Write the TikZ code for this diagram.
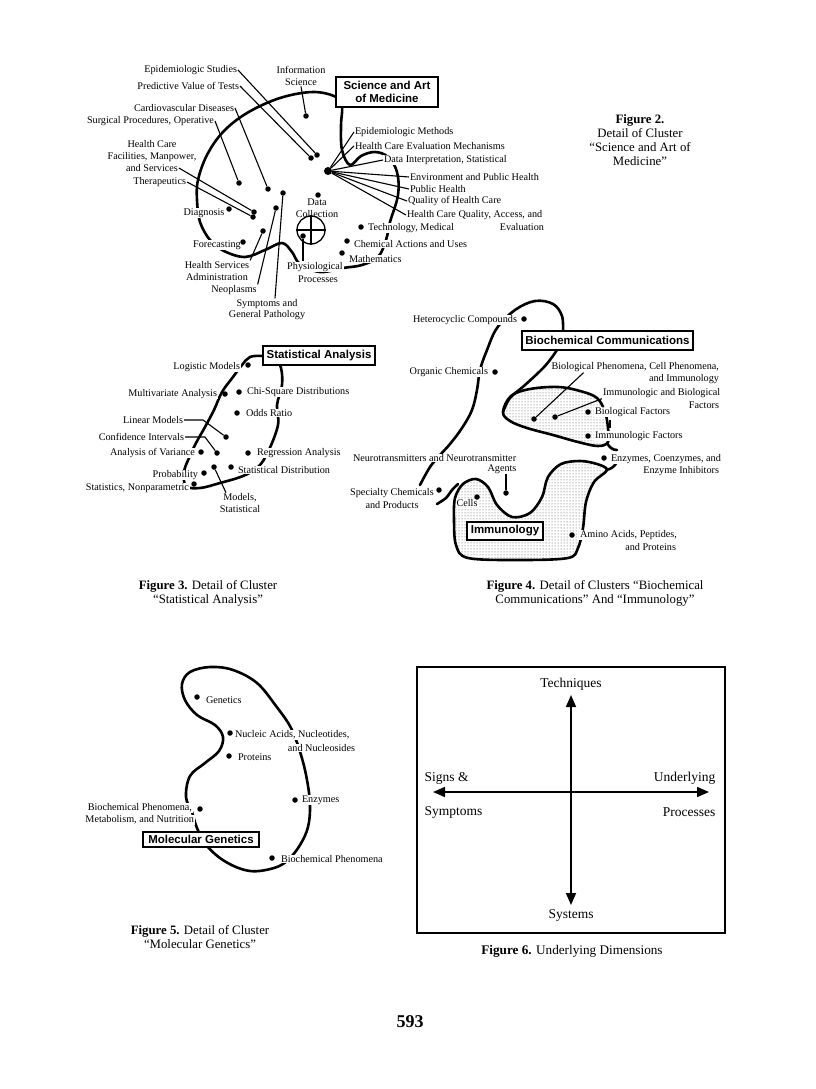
\documentclass[tikz,border=0pt]{standalone}
\usepackage{fontspec}
\setmainfont{Liberation Serif}
\newfontfamily\boxfont{Liberation Sans}
\usetikzlibrary{arrows.meta,patterns,calc}
\begin{document}
\begin{tikzpicture}[x=1pt,y=-1pt,
  lbl/.style={font=\fontsize{10.2}{11.5}\selectfont, inner sep=0.8pt, fill=white},
  lblc/.style={lbl, align=center},
  ttl/.style={draw, line width=1.2pt, fill=white, font=\boxfont\bfseries\fontsize{11.5}{13}\selectfont, inner sep=1pt, align=center},
  dot/.style={circle, fill=black, inner sep=0pt, minimum size=5.5pt},
  lead/.style={line width=1.1pt},
  blob/.style={line width=2.6pt, line join=round, line cap=round},
  dotted area/.style={pattern=dots, pattern color=black!70},
  figcap/.style={font=\fontsize{12.8}{14}\selectfont, align=center, inner sep=0pt},
  dimlbl/.style={font=\fontsize{13.5}{15}\selectfont, inner sep=0.5pt},
  dimarrow/.style={line width=1.6pt, {Triangle[length=12pt,width=10pt]}-{Triangle[length=12pt,width=10pt]}}
]
\useasboundingbox (0,0) rectangle (816,1089);

%================ FIGURE 2 =================
\draw[blob] plot[smooth cycle, tension=0.6] coordinates {(336,97) (313,92) (280,98) (247,113) (223,132) (207,155) (198,180) (197,200) (200,222) (210,240) (224,251) (245,257) (265,250) (282,243) (292,252) (300,264) (320,272) (343,268) (362,265) (378,257) (386,240) (390,222) (398,195) (397,172) (388,157) (375,152) (361,156) (350,165) (342,150) (341,125) (342,107)};
\node[ttl, minimum width=102pt, minimum height=30pt] (tsam) at (387,92) {Science and Art\\of Medicine};

\node[lbl, anchor=east] (les) at (238,70) {Epidemiologic Studies};
\node[lbl, anchor=east] (lpv) at (240,86) {Predictive Value of Tests};
\node[lblc] (lis) at (301,76) {Information\\Science};
\node[lbl, anchor=east] (lcd) at (235,108) {Cardiovascular Diseases};
\node[lbl, anchor=east] (lsp) at (215,121) {Surgical Procedures, Operative};
\node[lblc] (lhc) at (152,151) {Health Care\\Facilities, Manpower,};
\node[lbl] (lhc2) at (152,168) {and Services};
\node[lbl, anchor=east] (lth) at (187,182) {Therapeutics};
\node[lbl] (ldg) at (204,213) {Diagnosis};
\node[lbl] (lfc) at (217,245) {Forecasting};
\node[lbl] (lhs1) at (217,265) {Health Services};
\node[lbl] (lhs2) at (217,277) {Administration};
\node[lbl] (lne) at (234,290) {Neoplasms};
\node[lbl] (lsy1) at (267,304) {Symptoms and};
\node[lbl] (lsy2) at (267,315) {General Pathology};
\node[lblc] (ldc) at (317,208) {Data\\Collection};
\node[lbl] (lph1) at (315,267) {Physiological};
\node[lbl] (lph2) at (318,279) {Processes};
\node[lbl, anchor=west] (lem) at (354,132) {Epidemiologic Methods};
\node[lbl, anchor=west] (lhce) at (354,146) {Health Care Evaluation Mechanisms};
\node[lbl, anchor=west] (ldi) at (383,160) {Data Interpretation, Statistical};
\node[lbl, anchor=west] (lep) at (409,177) {Environment and Public Health};
\node[lbl, anchor=west] (lpu) at (409,189) {Public Health};
\node[lbl, anchor=west] (lqh) at (407,201) {Quality of Health Care};
\node[lbl, anchor=west] (lhq) at (406,215) {Health Care Quality, Access, and};
\node[lbl, anchor=east] (lhq2) at (545,227) {Evaluation};
\node[lbl, anchor=west] (lte) at (367,228) {Technology, Medical};
\node[lbl, anchor=west] (lch) at (353,244) {Chemical Actions and Uses};
\node[lbl, anchor=west] (lma) at (348,259) {Mathematics};

\node[circle, draw, line width=1.3pt, minimum size=28pt, inner sep=0pt] (cc) at (311,230) {};
\draw[line width=1.3pt] (cc.north) -- (cc.south) (cc.west) -- (cc.east);

\node[dot] (des) at (317,155) {};
\node[dot] (dpv) at (311,158) {};
\node[dot] (dis) at (306,116) {};
\node[dot] (dcd) at (268,189) {};
\node[dot] (dsp) at (239,183) {};
\node[dot] (dhc) at (254,212) {};
\node[dot] (dth) at (253,217) {};
\node[dot] (ddg) at (229,209) {};
\node[dot] (dfc) at (243,242) {};
\node[dot] (dsy) at (283,193) {};
\node[dot] (dne) at (276,208) {};
\node[dot] (dhs) at (263,231) {};
\node[dot] (ddc) at (318,195) {};
\node[dot] (dph) at (303,236) {};
\node[dot] (dte) at (361,227) {};
\node[dot] (dch) at (347,241) {};
\node[dot] (dma) at (342,253) {};
\node[circle, fill=black, inner sep=0pt, minimum size=8pt] (hub) at (328,171) {};

\draw[lead] (les.east) -- (des);
\draw[lead] (lpv.east) -- (dpv);
\draw[lead] (lis.south) -- (dis);
\draw[lead] (lcd.east) -- (dcd);
\draw[lead] (lsp.east) -- (dsp);
\draw[lead] (lhc2.east) -- (dhc);
\draw[lead] (lth.east) -- (dth);
\draw[lead] (dsy) -- ([xshift=8pt]lsy1.north);
\draw[lead] (dne) -- (lne.north east);
\draw[lead] (dhs) -- (lhs1.north east);
\draw[lead] (dph) -- (dph |- lph1.north);
\foreach \t in {lem,lhce,ldi,lep,lpu,lqh,lhq} \draw[lead] (hub) -- (\t.west);

\node[figcap] (cap2) at (640,140) {\textbf{Figure 2.}\\Detail of Cluster\\“Science and Art of\\Medicine”};

%================ FIGURE 3 =================
\draw[blob] plot[smooth cycle, tension=0.6] coordinates {(263,356) (250,357) (242,365) (233,377) (222,392) (214,410) (205,427) (196,443) (189,458) (184,472) (186,486) (200,488) (220,483) (243,476) (258,467) (268,452) (278,425) (277,405) (282,385) (281,368) (275,358)};
\node[ttl, minimum width=112pt, minimum height=19pt] (tsa) at (319,355.5) {Statistical Analysis};

\node[lbl, anchor=east] (llm) at (241,367) {Logistic Models};
\node[lbl, anchor=east] (lmv) at (218,394) {Multivariate Analysis};
\node[lbl, anchor=west] (lcs) at (246,392) {Chi-Square Distributions};
\node[lbl, anchor=west] (lor) at (245,413) {Odds Ratio};
\node[lbl, anchor=east] (lli) at (184,420) {Linear Models};
\node[lbl, anchor=east] (lci) at (185,437) {Confidence Intervals};
\node[lbl, anchor=east] (lav) at (196,453) {Analysis of Variance};
\node[lbl, anchor=west] (lra) at (256,453) {Regression Analysis};
\node[lbl, anchor=east] (lpr) at (199,475) {Probability};
\node[lbl, anchor=west] (lsd) at (237,470) {Statistical Distribution};
\node[lbl, anchor=east] (lsn) at (190,488) {Statistics, Nonparametric};
\node[lblc] (lms) at (240,503) {Models,\\Statistical};

\node[dot] (dlm) at (248,365) {};
\node[dot] (dmv) at (225,394) {};
\node[dot] (dcs) at (239,392) {};
\node[dot] (dor) at (237,413) {};
\node[dot] (dli) at (226,437) {};
\node[dot] (dci) at (217,453) {};
\node[dot] (dav) at (201,452) {};
\node[dot] (dra) at (248,453) {};
\node[dot] (dpr) at (204,473) {};
\node[dot] (dms) at (214,467) {};
\node[dot] (dsd) at (231,467) {};
\node[dot] (dsn) at (194,484) {};

\draw[lead] (lli.east) -- ++(19,0) -- (dli);
\draw[lead] (lci.east) -- ++(20,0) -- (dci);
\draw[lead] (dms) -- ([xshift=-14pt]lms.north);

\node[figcap] (cap3) at (208,593) {\textbf{Figure 3.} Detail of Cluster\\“Statistical Analysis”};

%================ FIGURE 4 =================
\draw[blob] plot[smooth, tension=0.6] coordinates {(420,485) (430,467) (440,455) (450,444) (462,428) (472,410) (477,390) (480,370) (487,350) (497,328) (515,310) (535,301) (553,304) (562,316) (563,332)};
\draw[blob] plot[smooth, tension=0.6] coordinates {(557,350) (545,366) (525,385) (510,398) (503,412)};
\draw[blob, dotted area] plot[smooth cycle, tension=0.6] coordinates {(503,412) (511,396) (530,389) (558,387) (580,391) (597,398) (605,412) (608,428) (608,442) (598,446) (578,442) (553,435) (527,428) (510,421)};
\draw[blob] (607,443) to[out=-60,in=180] (617,450);
\draw[blob, dotted area] plot[smooth cycle, tension=0.55] coordinates {(455,498) (463,484) (476,479) (488,487) (497,505) (512,517) (530,513) (542,497) (548,477) (561,464) (580,461) (597,464) (607,470) (594,482) (586,502) (583,528) (578,548) (568,558) (520,560) (468,558) (456,545) (454,520)};
\draw[blob] plot[smooth] coordinates {(437,504) (446,498) (452,490) (458,484)};
\draw[blob] (606,470) to[out=10,in=-120] (617,462);

\node[ttl, minimum width=171pt, minimum height=19pt] (tbc) at (607.5,340.5) {Biochemical Communications};
\node[ttl, minimum width=76pt, minimum height=18pt] (tim) at (505,531) {Immunology};

\node[lbl, anchor=east] (lhcc) at (518,320) {Heterocyclic Compounds};
\node[lbl, anchor=east] (loc) at (489,372) {Organic Chemicals};
\node[lbl, anchor=east] (lbp1) at (720,367) {Biological Phenomena, Cell Phenomena,};
\node[lbl, anchor=east] (lbp2) at (720,379) {and Immunology};
\node[lbl, anchor=west] (lib1) at (602,393) {Immunologic and Biological};
\node[lbl, anchor=east] (lib2) at (720,405) {Factors};
\node[lbl, anchor=west] (lbf) at (594,412) {Biological Factors};
\node[lbl, anchor=west] (lif) at (594,436) {Immunologic Factors};
\node[lbl, anchor=west] (lec1) at (610,459) {Enzymes, Coenzymes, and};
\node[lbl, anchor=east] (lec2) at (720,471) {Enzyme Inhibitors};
\node[lbl, anchor=west] (laa1) at (579,535) {Amino Acids, Peptides,};
\node[lbl, anchor=east] (laa2) at (677,547) {and Proteins};
\node[lbl, anchor=west] (lnt1) at (352,458) {Neurotransmitters and Neurotransmitter};
\node[lbl] (lnt2) at (502,469) {Agents};
\node[lbl] (lsc1) at (392,493) {Specialty Chemicals};
\node[lbl] (lsc2) at (392,505) {and Products};
\node[lbl] (lce) at (467,503) {Cells};

\node[dot] (dhcc) at (524,319) {};
\node[dot] (doc) at (495,372) {};
\node[dot] (dbp) at (534,419) {};
\node[dot] (dib) at (555,417) {};
\node[dot] (dbf) at (588,412) {};
\node[dot] (dif) at (588,436) {};
\node[dot] (dec) at (604,458) {};
\node[dot] (daa) at (572,535) {};
\node[dot] (dnt) at (506,493) {};
\node[dot] (dsc) at (439,490) {};
\node[dot] (dce) at (477,497) {};

\draw[lead] ([xshift=33pt]lbp1.south west) -- (dbp);
\draw[lead] (lib1.south west) -- (dib);
\draw[lead] (dnt |- lnt2.south) -- (dnt);
\draw[line width=2.4pt] ($(dbf)!0.5!(dif)+(22,-4)$) coordinate (bfa) -- ++(0,8) coordinate (bfb);

\node[figcap] (cap4) at (595,593) {\textbf{Figure 4.} Detail of Clusters “Biochemical\\Communications” And “Immunology”};

%================ FIGURE 5 =================
\draw[blob] plot[smooth cycle, tension=0.6] coordinates {(186,797) (190,776) (205,763) (219,751) (223,737) (215,725) (197,715) (185,700) (182,684) (190,672) (210,667) (233,670) (257,683) (276,706) (291,728) (301,755) (307,780) (310,805) (308,827) (300,845) (288,860) (274,868) (250,871) (226,862) (207,846) (197,828) (192,812)};
\node[ttl, minimum width=116pt, minimum height=15pt] (tmg) at (201,839.5) {Molecular Genetics};

\node[lbl, anchor=west] (lge) at (205,700) {Genetics};
\node[lbl, anchor=west] (lna1) at (234,735) {Nucleic Acids, Nucleotides,};
\node[lbl, anchor=east] (lna2) at (356,748) {and Nucleosides};
\node[lbl, anchor=west] (lpt) at (237,757) {Proteins};
\node[lbl, anchor=west] (len) at (301,800) {Enzymes};
\node[lbl, anchor=east] (lbm1) at (193,808) {Biochemical Phenomena,};
\node[lbl, anchor=east] (lbm2) at (195,820) {Metabolism, and Nutrition};
\node[lbl, anchor=west] (lbph) at (280,859) {Biochemical Phenomena};

\node[dot] (dge) at (197,697) {};
\node[dot] (dna) at (230,733) {};
\node[dot] (dpt) at (229,756) {};
\node[dot] (den) at (295,800) {};
\node[dot] (dbm) at (200,809) {};
\node[dot] (dbph) at (272,858) {};

\node[figcap] (cap5) at (200,937) {\textbf{Figure 5.} Detail of Cluster\\“Molecular Genetics”};

%================ FIGURE 6 =================
\node[draw, line width=1.3pt, minimum width=308pt, minimum height=266pt, inner sep=0pt] (frame6) at (571,800) {};
\node[dimlbl] (ltq) at (571,684) {Techniques};
\node[dimlbl] (lsys) at (571,915) {Systems};
\node[dimlbl, anchor=west] (lsg) at (424,778) {Signs \&};
\node[dimlbl, anchor=west] (lsm) at (424,812) {Symptoms};
\node[dimlbl, anchor=east] (lul) at (716,778) {Underlying};
\node[dimlbl, anchor=east] (lpc) at (716,812) {Processes};
\coordinate (vt) at (571,695);
\coordinate (vb) at (571,905);
\coordinate (hl) at (433,792);
\coordinate (hr) at (709,792);
\draw[dimarrow] (vt) -- (vb);
\draw[dimarrow] (hl) -- (hr);
\node[figcap, font=\fontsize{13.2}{15}\selectfont] (cap6) at (572,951) {\textbf{Figure 6.} Underlying Dimensions};

%================ PAGE NUMBER =================
\node[font=\bfseries\fontsize{18}{20}\selectfont] (pg) at (410,1022) {593};
\end{tikzpicture}
\end{document}
